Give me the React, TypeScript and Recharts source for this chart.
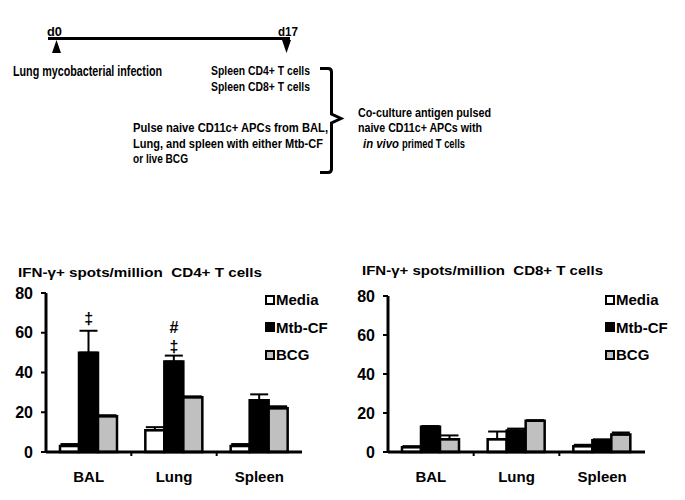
import React from 'react';
import { BarChart, Bar, XAxis, YAxis, ErrorBar, Legend, ReferenceDot } from 'recharts';

const FONT = '"Liberation Sans", Arial, sans-serif';

const categories = ['BAL', 'Lung', 'Spleen'];
const seriesNames = ['Media', 'Mtb-CF', 'BCG'];
const seriesFills = ['#ffffff', '#000000', '#c0c0c0'];
const yTicks = [0, 20, 40, 60, 80];

// CD4+ T cells (upper error only)
const cd4Media = [3, 11, 3];
const cd4MediaErr = [1, 1.5, 1];
const cd4Mtb = [50, 45.5, 26];
const cd4MtbErr = [11, 3, 3];
const cd4Bcg = [18, 27.5, 22];
const cd4BcgErr = [0.5, 0.5, 1];

// CD8+ T cells
const cd8Media = [2.5, 6.5, 3];
const cd8MediaErr = [0.5, 4, 0.7];
const cd8Mtb = [13, 11, 6];
const cd8MtbErr = [0.3, 1, 0.5];
const cd8Bcg = [6.5, 16, 9];
const cd8BcgErr = [2, 0.3, 1];

// significance symbols above Mtb-CF bars (CD4 panel)
const cd4Marks = [
  { cat: 'BAL', y: 67, sym: '‡' },
  { cat: 'Lung', y: 53, sym: '‡' },
  { cat: 'Lung', y: 62.5, sym: '#' },
];

function buildRows(media: number[], mediaErr: number[], mtb: number[], mtbErr: number[], bcg: number[], bcgErr: number[]) {
  return categories.map((cat, i) => ({
    cat,
    media: media[i],
    mediaErr: [0, mediaErr[i]],
    mtb: mtb[i],
    mtbErr: [0, mtbErr[i]],
    bcg: bcg[i],
    bcgErr: [0, bcgErr[i]],
  }));
}

const cd4Rows = buildRows(cd4Media, cd4MediaErr, cd4Mtb, cd4MtbErr, cd4Bcg, cd4BcgErr);
const cd8Rows = buildRows(cd8Media, cd8MediaErr, cd8Mtb, cd8MtbErr, cd8Bcg, cd8BcgErr);

const CatTick = (props: any) => {
  const { x, y, payload, index, band } = props;
  return (
    <g>
      {index > 0 && (
        <line x1={x - band / 2} x2={x - band / 2} y1={y} y2={y + 4} stroke="#000" strokeWidth={2} />
      )}
      <text x={x} y={y + 30} textAnchor="middle" fontFamily={FONT} fontWeight="bold" fontSize={15} fill="#000">
        {payload.value}
      </text>
    </g>
  );
};

const LegendBox = () => (
  <div style={{ fontFamily: FONT, fontWeight: 'bold', fontSize: 15, color: '#000' }}>
    {seriesNames.map((n, i) => (
      <div key={n} style={{ display: 'flex', alignItems: 'center', height: 27.5 }}>
        <span
          style={{
            display: 'inline-block',
            width: 10,
            height: 10,
            boxSizing: 'border-box',
            border: '2.5px solid #000',
            background: seriesFills[i],
          }}
        />
        <span style={{ marginLeft: 1 }}>{n}</span>
      </div>
    ))}
  </div>
);

interface PanelProps {
  rows: any[];
  width: number;
  marginTop: number;
  marginRight: number;
  yWidth: number;
  marks?: { cat: string; y: number; sym: string }[];
}

function Panel({ rows, width, marginTop, marginRight, yWidth, marks = [] }: PanelProps) {
  const band = (width - yWidth - marginRight) / categories.length;
  const keys = ['media', 'mtb', 'bcg'];
  return (
    <BarChart
      width={width}
      height={250}
      data={rows}
      margin={{ top: marginTop, right: marginRight, left: 0, bottom: 18 }}
      barGap={0}
      barSize={19}
    >
      <XAxis
        dataKey="cat"
        axisLine={{ stroke: '#000', strokeWidth: 3 }}
        tickLine={false}
        tickSize={0}
        tickMargin={0}
        height={30}
        tick={(p: any) => <CatTick {...p} band={band} />}
      />
      <YAxis
        domain={[0, 80]}
        ticks={yTicks}
        width={yWidth}
        axisLine={{ stroke: '#000', strokeWidth: 3 }}
        tickLine={{ stroke: '#000', strokeWidth: 2 }}
        tickSize={5}
        tickMargin={8}
        tick={{ fill: '#000', fontFamily: FONT, fontWeight: 'bold', fontSize: 16 }}
      />
      <Legend
        layout="vertical"
        align="center"
        verticalAlign="middle"
        content={() => <LegendBox />}
        wrapperStyle={{ left: 265, top: 36, width: 80, height: 85 }}
      />
      {keys.map((k, i) => (
        <Bar key={k} dataKey={k} name={seriesNames[i]} fill={seriesFills[i]} stroke="#000" strokeWidth={2.5} isAnimationActive={false}>
          <ErrorBar dataKey={`${k}Err`} direction="y" width={9} stroke="#000" strokeWidth={2} />
        </Bar>
      ))}
      {marks.map((m, i) => (
        <ReferenceDot
          key={i}
          x={m.cat}
          y={m.y}
          r={1}
          shape={(p: any) => (
            <text
              x={p.cx}
              y={p.cy}
              textAnchor="middle"
              dominantBaseline="central"
              fontFamily={FONT}
              fontWeight="bold"
              fontSize={16}
              fill="#000"
            >
              {m.sym}
            </text>
          )}
        />
      ))}
    </BarChart>
  );
}

const txt = { fontFamily: FONT, fontWeight: 'bold' as const, fill: '#000' };

export default function App() {
  return (
    <div style={{ position: 'absolute', left: 0, top: 0, width: 685, height: 500, background: '#fff', overflow: 'hidden' }}>
      <svg width={685} height={290} style={{ position: 'absolute', left: 0, top: 0 }}>
        {/* timeline */}
        <text x={47} y={36} fontSize={13.5} textLength={15} lengthAdjust="spacingAndGlyphs" {...txt}>d0</text>
        <text x={278} y={36} fontSize={13.5} textLength={20} lengthAdjust="spacingAndGlyphs" {...txt}>d17</text>
        <line x1={48} x2={290} y1={38.5} y2={38.5} stroke="#000" strokeWidth={3} />
        <polygon points="56.5,40 52,53 61,53" fill="#000" />
        <polygon points="282,40 291,40 286.5,53" fill="#000" />
        <text x={13} y={75.5} fontSize={14} textLength={149} lengthAdjust="spacingAndGlyphs" {...txt}>Lung mycobacterial infection</text>
        <text x={211} y={75} fontSize={13} textLength={99} lengthAdjust="spacingAndGlyphs" {...txt}>Spleen CD4+ T cells</text>
        <text x={211} y={90.7} fontSize={13} textLength={99} lengthAdjust="spacingAndGlyphs" {...txt}>Spleen CD8+ T cells</text>
        <text x={133} y={131.7} fontSize={13} textLength={195} lengthAdjust="spacingAndGlyphs" {...txt}>Pulse naive CD11c+ APCs from BAL,</text>
        <text x={133} y={147.7} fontSize={13} textLength={190} lengthAdjust="spacingAndGlyphs" {...txt}>Lung, and spleen with either Mtb-CF</text>
        <text x={133} y={163.3} fontSize={13} textLength={55} lengthAdjust="spacingAndGlyphs" {...txt}>or live BCG</text>
        <path
          d="M 320 68.5 L 328 68.5 Q 331.5 68.5 331.5 72 L 331.5 114 L 341 118.5 L 331.5 123 L 331.5 169 Q 331.5 172.5 328 172.5 L 320 172.5"
          fill="none"
          stroke="#000"
          strokeWidth={3}
        />
        <text x={358} y={116.7} fontSize={13} textLength={133} lengthAdjust="spacingAndGlyphs" {...txt}>Co-culture antigen pulsed</text>
        <text x={358} y={131.7} fontSize={13} textLength={124} lengthAdjust="spacingAndGlyphs" {...txt}>naive CD11c+ APCs with</text>
        <text x={363} y={147.7} fontSize={13} fontStyle="italic" textLength={36} lengthAdjust="spacingAndGlyphs" {...txt}>in vivo</text>
        <text x={402} y={147.7} fontSize={13} textLength={63} lengthAdjust="spacingAndGlyphs" {...txt}>primed T cells</text>
        {/* panel titles */}
        <text x={18} y={277} fontSize={13} textLength={244} lengthAdjust="spacingAndGlyphs" style={{ whiteSpace: 'pre' }} {...txt}>
          IFN-γ+ spots/million  CD4+ T cells
        </text>
        <text x={362} y={275} fontSize={13} textLength={241} lengthAdjust="spacingAndGlyphs" style={{ whiteSpace: 'pre' }} {...txt}>
          IFN-γ+ spots/million  CD8+ T cells
        </text>
      </svg>
      <div style={{ position: 'absolute', left: 0, top: 250 }}>
        <Panel rows={cd4Rows} width={340} marginTop={43} marginRight={38} yWidth={46} marks={cd4Marks} />
      </div>
      <div style={{ position: 'absolute', left: 340, top: 250 }}>
        <Panel rows={cd8Rows} width={345} marginTop={46} marginRight={40} yWidth={48} />
      </div>
    </div>
  );
}
